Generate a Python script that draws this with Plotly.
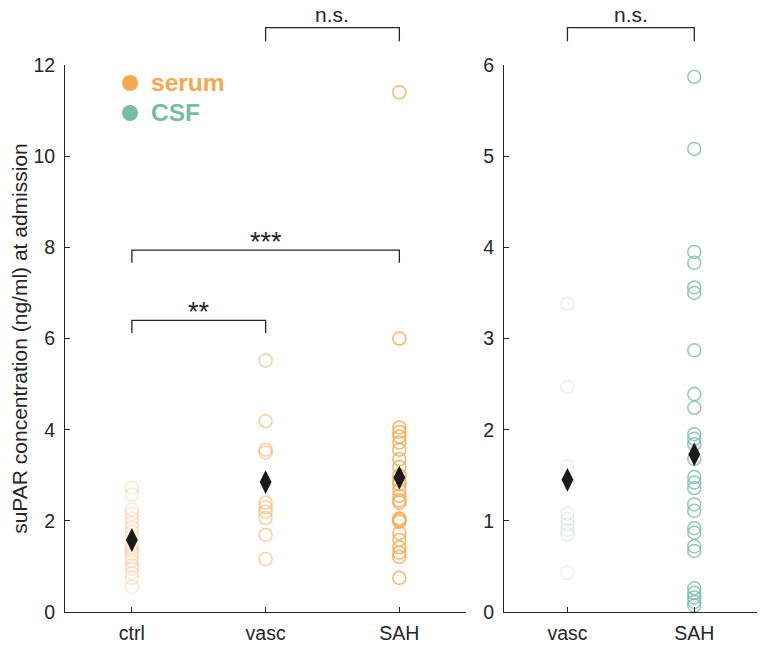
import plotly.graph_objects as go

# serum (left panel) values, ng/ml
serum_ctrl = [2.73, 2.58, 2.25, 2.15, 2.05, 1.95, 1.85, 1.75, 1.65, 1.5,
              1.42, 1.35, 1.28, 1.2, 1.12, 1.02, 0.95, 0.85, 0.75, 0.55]
serum_vasc = [5.52, 4.19, 3.56, 3.5, 2.4, 2.3, 2.2, 2.06, 1.69, 1.16]
serum_sah = [11.4, 6.0, 4.05, 3.95, 3.85, 3.72, 3.56, 3.35, 3.18, 3.0, 2.88,
             2.8, 2.68, 2.55, 2.45, 2.4, 2.05, 2.02, 1.98, 1.73, 1.58, 1.42,
             1.3, 1.21, 0.75]

# CSF (right panel)
csf_vasc = [3.38, 2.47, 1.6, 1.42, 1.08, 1.02, 0.96, 0.9, 0.85, 0.43]
csf_sah = [5.87, 5.08, 3.95, 3.83, 3.56, 3.5, 2.87, 2.39, 2.24, 1.95, 1.9,
           1.84, 1.68, 1.48, 1.42, 1.36, 1.18, 1.11, 0.92, 0.87, 0.72, 0.67,
           0.26, 0.21, 0.16, 0.11, 0.07]

serum_means = [1.58, 2.85, 2.95]
csf_means = [1.45, 1.73]

left_cats = ["ctrl", "vasc", "SAH"]
right_cats = ["vasc", "SAH"]

ORANGE = (244, 169, 78)
TEAL = (118, 188, 166)
FONT = "Liberation Sans, Arial, sans-serif"
AX = "#262626"

W, H = 765, 648
left_dom = [0.0745, 0.599]
right_dom = [0.6484, 0.980]
y_dom = [0.0679, 0.912]
left_range = [0.5, 3.5]
right_range = [0.5, 2.5]
left_ymax = 12
right_ymax = 6


def rgba(c, a):
    return "rgba(%d,%d,%d,%.2f)" % (c[0], c[1], c[2], a)


fig = go.Figure()

groups = [
    (serum_ctrl, 1, ORANGE, 0.25, "x", "y"),
    (serum_vasc, 2, ORANGE, 0.55, "x", "y"),
    (serum_sah, 3, ORANGE, 0.85, "x", "y"),
    (csf_vasc, 1, TEAL, 0.2, "x2", "y2"),
    (csf_sah, 2, TEAL, 0.8, "x2", "y2"),
]
for vals, pos, col, alpha, xa, ya in groups:
    fig.add_trace(go.Scatter(
        x=[pos] * len(vals), y=vals, xaxis=xa, yaxis=ya, mode="markers",
        marker=dict(symbol="circle-open", size=13, color=rgba(col, alpha),
                    line=dict(width=1.5)),
        showlegend=False, cliponaxis=False))

fig.add_trace(go.Scatter(
    x=[1, 2, 3], y=serum_means, xaxis="x", yaxis="y", mode="markers",
    marker=dict(symbol="diamond-tall", size=17, color="#1a1a1a"),
    showlegend=False))
fig.add_trace(go.Scatter(
    x=[1, 2], y=csf_means, xaxis="x2", yaxis="y2", mode="markers",
    marker=dict(symbol="diamond-tall", size=17, color="#1a1a1a"),
    showlegend=False))


def px(cat, rng, dom):
    return dom[0] + (cat - rng[0]) / (rng[1] - rng[0]) * (dom[1] - dom[0])


def py(v, ymax):
    return y_dom[0] + v / ymax * (y_dom[1] - y_dom[0])


# significance brackets: (x1, x2, bar level, drop, label, panel)
brackets = [
    (1, 2, 6.4, 0.28, "**", "L"),
    (1, 3, 7.94, 0.28, "***", "L"),
    (2, 3, 12.82, 0.3, "n.s.", "L"),
    (1, 2, 6.41, 0.15, "n.s.", "R"),
]
shapes = []
annotations = []
for a, b, lvl, drop, lab, panel in brackets:
    if panel == "L":
        rng, dom, ymax = left_range, left_dom, left_ymax
    else:
        rng, dom, ymax = right_range, right_dom, right_ymax
    xa, xb = px(a, rng, dom), px(b, rng, dom)
    yt, yb = py(lvl, ymax), py(lvl - drop, ymax)
    shapes.append(dict(type="path", xref="paper", yref="paper",
                       path="M %f %f L %f %f L %f %f L %f %f" % (xa, yb, xa, yt, xb, yt, xb, yb),
                       line=dict(color=AX, width=1.3)))
    big = lab != "n.s."
    annotations.append(dict(xref="paper", yref="paper", x=(xa + xb) / 2, y=yt,
                            xanchor="center", yanchor="bottom", showarrow=False,
                            text=lab, yshift=-9 if big else 0,
                            font=dict(family=FONT, size=27 if big else 21, color=AX)))

# legend drawn as dots + bold coloured labels, top left of the serum panel
legend_items = [("serum", ORANGE), ("CSF", TEAL)]
for i, (name, col) in enumerate(legend_items):
    cy = 1 - (83 + 30 * i - 8) / H
    cx = (130 - 8) / W
    r = 8
    shapes.append(dict(type="circle", xref="paper", yref="paper",
                       x0=cx - r / W, x1=cx + r / W, y0=cy - r / H, y1=cy + r / H,
                       fillcolor=rgba(col, 1), line=dict(width=0)))
    annotations.append(dict(xref="paper", yref="paper", x=cx + 19 / W, y=cy,
                            xanchor="left", yanchor="middle", showarrow=False,
                            text="<b>%s</b>" % name,
                            font=dict(family=FONT, size=24.5, color=rgba(col, 1))))

axis_common = dict(showline=True, linecolor=AX, linewidth=1, ticks="inside",
                   ticklen=5, tickcolor=AX, showgrid=False, zeroline=False,
                   automargin=False,
                   tickfont=dict(family=FONT, size=19.5, color=AX))

fig.update_layout(
    width=W, height=H, margin=dict(l=0, r=0, t=0, b=0, autoexpand=False),
    plot_bgcolor="white", paper_bgcolor="white", showlegend=False,
    xaxis=dict(domain=left_dom, range=left_range, tickvals=[1, 2, 3],
               ticktext=left_cats, anchor="y", ticklabelstandoff=4, **axis_common),
    yaxis=dict(domain=y_dom, range=[0, left_ymax], dtick=2, anchor="x",
               ticklabelstandoff=5,
               title=dict(text="suPAR concentration (ng/ml) at admission",
                          font=dict(family=FONT, size=21, color=AX), standoff=5),
               **axis_common),
    xaxis2=dict(domain=right_dom, range=right_range, tickvals=[1, 2],
                ticktext=right_cats, anchor="y2", ticklabelstandoff=4, **axis_common),
    yaxis2=dict(domain=y_dom, range=[0, right_ymax], dtick=1, anchor="x2",
                ticklabelstandoff=5, **axis_common),
    shapes=shapes, annotations=annotations,
)

fig.write_html("out.html")
